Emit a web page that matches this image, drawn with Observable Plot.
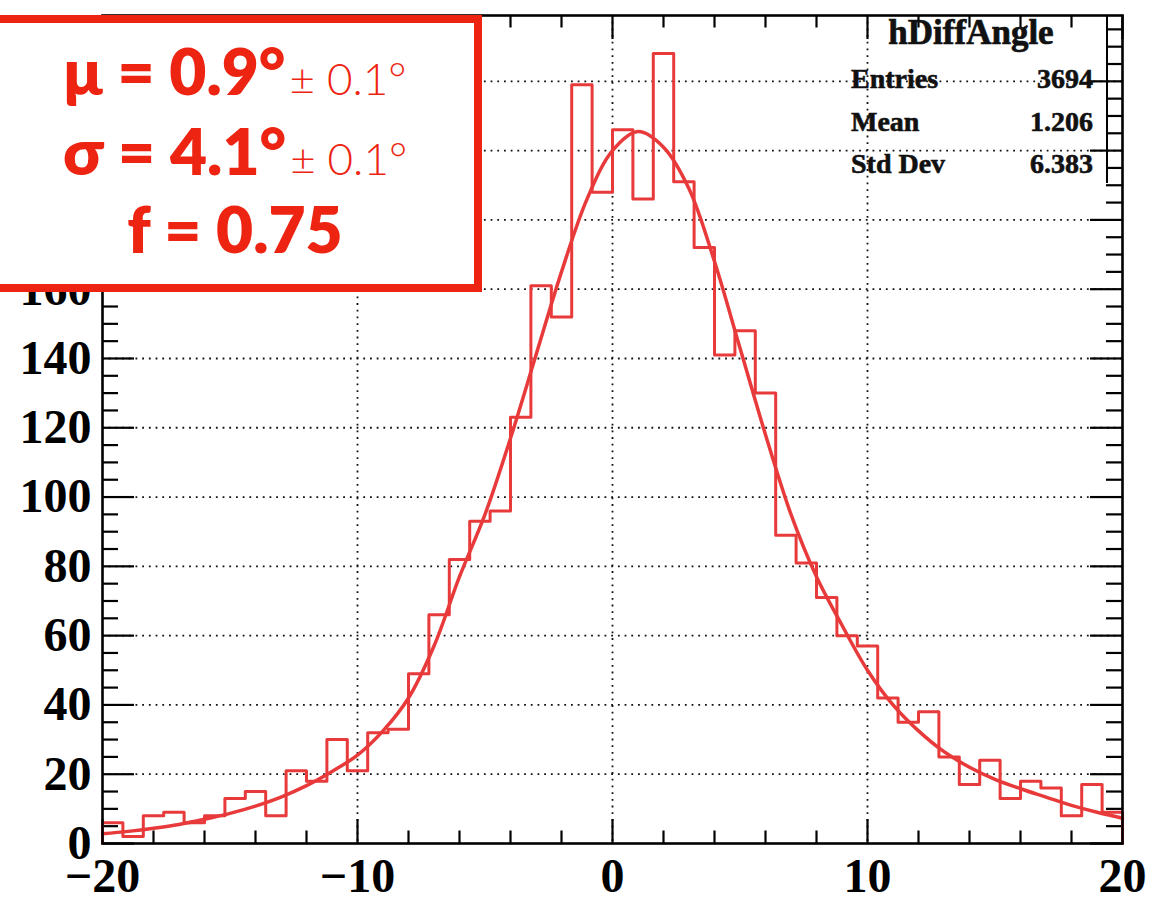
<!DOCTYPE html>
<html><head><meta charset="utf-8">
<script src="https://cdn.jsdelivr.net/npm/d3@7"></script>
<script src="https://cdn.jsdelivr.net/npm/@observablehq/plot@0.6"></script>
<style>
html,body{margin:0;padding:0;background:#fff;}
#chart{position:relative;width:1165px;height:909px;overflow:hidden;}
</style></head><body><div id="chart"></div>
<script>
// ---- data ----
const binLow = -20, binHigh = 20, nBins = 50;
const counts = [6,2,8,9,6,8,13,15,8,21, 18,30,21,32,33,49,66,82,93,96,
  123,161,152,219,188,206,186,228,191,172, 141,148,130,89,81,71,60,57,42,35,
  38,25,17,24,13,18,16,8,17,9];
const fitX = [-20,-19,-18,-17,-16,-15,-14,-13,-12,-11,-10,-9,-8,-7,-6,-5,-4,-3,-2,-1,0,
  1,2,3,4,5,6,7,8,9,10,11,12,13,14,15,16,17,18,19,20];
const fitY = [2.8,3.5,4.4,5.5,7.0,8.7,10.8,13.4,16.7,20.8,25.5,32.5,42,57,77,95,117,141,165,186,200,
  205.5,201,189,168,143,118,95,77,63,50,40,32.5,26.5,22,18.5,15.8,13.4,11.0,9.0,7.3];
const xTicks = [-20,-10,0,10,20];
const yTicks = [0,20,40,60,80,100,120,140,160,180,200,220];
const yLabelTicks = [0,20,40,60,80,100,120,140,160]; // higher labels sit under the annotation box
const xGrid = [-10,0,10];
const yGrid = [20,40,60,80,100,120,140,160,180,200,220];
const statsTitle = "hDiffAngle";
const statsNames = ["Entries","Mean","Std Dev"];
const statsValues = ["3694","1.206","6.383"];
const fitBold = ["μ = 0.9°","σ = 4.1°","f = 0.75"];
const fitErr = ["± 0.1°","± 0.1°",""];

// ---- layout ----
const W = 1165, H = 909;
const mL = 102, mR = 43, mT = 15, mB = 66;
const yMax = 239;
const pxPerX = (W - mL - mR) / (binHigh - binLow);
const pxPerY = (H - mT - mB) / yMax;
const red = "#e83a3a";

const edges = d3.range(nBins + 1).map(i => binLow + i * (binHigh - binLow) / nBins);
const histPts = [{x: binLow, y: 0}]
  .concat(counts.map((c, i) => ({x: edges[i], y: c})))
  .concat([{x: binHigh, y: counts[nBins - 1]}, {x: binHigh, y: 0}]);
const fitPts = fitX.map((x, i) => ({x, y: fitY[i]}));

// tick sets
const xMinor = d3.range(-18, 19, 2).filter(v => v % 10 !== 0);
const xMajor = xTicks;
const yMinor = d3.range(5, 236, 5).filter(v => v % 20 !== 0);
const yMajor = yTicks;
const xMajLen = 24 / pxPerY, xMinLen = 12.5 / pxPerY;
const yMajLen = 32 / pxPerX, yMinLen = 16 / pxPerX;

const fmt = d => d < 0 ? "\u2212" + Math.abs(d) : String(d);
const axisFont = {fontFamily: "Liberation Serif, Times New Roman, serif", fontWeight: "bold", fontSize: 48};

const plot = Plot.plot({
  width: W, height: H,
  marginLeft: mL, marginRight: mR, marginTop: mT, marginBottom: mB,
  x: {domain: [binLow, binHigh]},
  y: {domain: [0, yMax]},
  style: {background: "white", overflow: "visible"},
  marks: [
    Plot.ruleY(yGrid, {stroke: "#111", strokeWidth: 1.8, strokeDasharray: "1.8,4.9"}),
    Plot.ruleX(xGrid, {stroke: "#111", strokeWidth: 1.8, strokeDasharray: "1.8,4.9"}),
    // bottom & top x ticks (inward)
    Plot.ruleX(xMinor, {y1: 0, y2: xMinLen, stroke: "#000", strokeWidth: 2.2}),
    Plot.ruleX(xMajor, {y1: 0, y2: xMajLen, stroke: "#000", strokeWidth: 2.2}),
    Plot.ruleX(xMinor, {y1: yMax, y2: yMax - xMinLen, stroke: "#000", strokeWidth: 2.2}),
    Plot.ruleX(xMajor, {y1: yMax, y2: yMax - xMajLen, stroke: "#000", strokeWidth: 2.2}),
    // left & right y ticks (inward)
    Plot.ruleY(yMinor, {x1: binLow, x2: binLow + yMinLen, stroke: "#000", strokeWidth: 2.2}),
    Plot.ruleY(yMajor, {x1: binLow, x2: binLow + yMajLen, stroke: "#000", strokeWidth: 2.2}),
    Plot.ruleY(yMinor, {x1: binHigh, x2: binHigh - yMinLen, stroke: "#000", strokeWidth: 2.2}),
    Plot.ruleY(yMajor, {x1: binHigh, x2: binHigh - yMajLen, stroke: "#000", strokeWidth: 2.2}),
    Plot.line(histPts, {x: "x", y: "y", curve: "step-after", stroke: red, strokeWidth: 3}),
    Plot.line(fitPts, {x: "x", y: "y", curve: "catmull-rom", stroke: red, strokeWidth: 3.5}),
    Plot.frame({stroke: "#000", strokeWidth: 2.6}),
    Plot.axisX(xTicks, {tickSize: 0, tickPadding: 14, tickFormat: fmt, label: null, ...axisFont}),
    Plot.axisY(yLabelTicks, {tickSize: 0, tickPadding: 11, tickFormat: fmt, label: null, ...axisFont})
  ]
});
document.getElementById("chart").appendChild(plot);

// ---- overlays: stats box and fit annotation ----
const svg = d3.select(plot);

const stats = svg.append("g").attr("font-family", "Liberation Serif, Times New Roman, serif")
  .attr("font-weight", "bold").attr("fill", "#111").attr("stroke", "#111");
stats.append("line").attr("x1", 1107).attr("x2", 1107).attr("y1", mT).attr("y2", 183)
  .attr("stroke", "#000").attr("stroke-width", 2);
stats.append("text").attr("x", 971).attr("y", 44).attr("text-anchor", "middle")
  .attr("font-size", 35).attr("stroke-width", 0.7).text(statsTitle);
statsNames.forEach((n, i) => {
  const y = 88 + i * 42.5;
  stats.append("text").attr("x", 851).attr("y", y).attr("text-anchor", "start").attr("font-size", 28)
    .attr("stroke-width", 0.6).text(n);
  stats.append("text").attr("x", 1093).attr("y", y).attr("text-anchor", "end").attr("font-size", 28)
    .attr("stroke-width", 0.6).text(statsValues[i]);
});

const boxRed = "#ee2412";
const ann = svg.append("g");
ann.append("rect").attr("x", -10).attr("y", 19).attr("width", 488).attr("height", 269)
  .attr("fill", "white").attr("stroke", boxRed).attr("stroke-width", 8);
const baselines = [95, 175, 253];
fitBold.forEach((t, i) => {
  const txt = ann.append("text").attr("x", 235).attr("y", baselines[i]).attr("text-anchor", "middle")
    .attr("font-family", "Lato, 'Open Sans', sans-serif").attr("fill", boxRed);
  txt.append("tspan").attr("font-weight", 800).attr("font-size", 64).text(t);
  if (fitErr[i]) txt.append("tspan").attr("font-weight", 300).attr("font-size", 44).attr("dx", 4).text(fitErr[i]);
});
</script></body></html>
